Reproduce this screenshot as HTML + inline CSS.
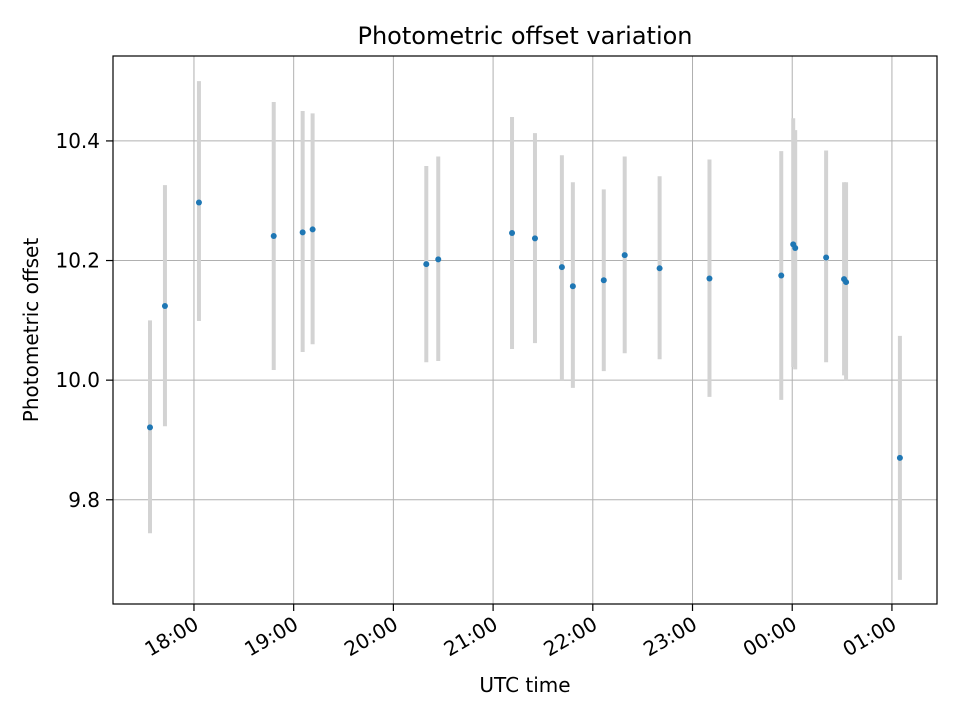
<!DOCTYPE html>
<html><head><meta charset="utf-8"><style>
body{margin:0;background:#fff;font-family:"Liberation Sans","DejaVu Sans",sans-serif}
svg text{font-family:"DejaVu Sans","Liberation Sans",sans-serif}
</style></head><body>
<svg id="chart" width="960" height="720" viewBox="0 0 960 720" xmlns="http://www.w3.org/2000/svg">
<rect width="960" height="720" fill="#fff"/>
<g id="grid"></g>
<g id="bars"></g>
<g id="pts"></g>
<rect x="113" y="56" width="824" height="548" fill="none" stroke="#000" stroke-width="1.2"/>
<g id="axes"></g>
<text x="525" y="44" text-anchor="middle" style="font-size:24px">Photometric offset variation</text>
<text x="525" y="692" text-anchor="middle" style="font-size:20px">UTC time</text>
<text transform="translate(38,330) rotate(-90)" text-anchor="middle" style="font-size:20px">Photometric offset</text>
</svg>
<script>
// hours since 00:00 of first day (values >24 are after midnight)
const times=[17.559,17.709,18.05,18.80,19.09,19.19,20.33,20.45,21.19,21.42,21.69,21.80,22.11,22.32,22.67,23.17,23.89,24.01,24.03,24.34,24.52,24.54,25.08];
const offsets=[9.921,10.124,10.297,10.241,10.247,10.252,10.194,10.202,10.246,10.237,10.189,10.157,10.167,10.209,10.187,10.170,10.175,10.227,10.221,10.205,10.169,10.164,9.870];
const upper=[10.10,10.326,10.50,10.465,10.45,10.446,10.358,10.374,10.44,10.413,10.376,10.331,10.319,10.374,10.341,10.369,10.383,10.438,10.418,10.384,10.331,10.331,10.074];
const lower=[9.744,9.923,10.099,10.017,10.047,10.06,10.03,10.032,10.052,10.062,10.0,9.987,10.015,10.045,10.035,9.972,9.967,10.022,10.018,10.03,10.008,10.0,9.666];
const xTicks=[18,19,20,21,22,23,24,25];
const xTickLabels=["18:00","19:00","20:00","21:00","22:00","23:00","00:00","01:00"];
const yTicks=[9.8,10.0,10.2,10.4];
const yTickLabels=["9.8","10.0","10.2","10.4"];
const L=113,R=937,T=56,B=604;
const xMin=17.188,xMax=25.452,yMin=9.6257,yMax=10.542;
const xs=h=>L+(h-xMin)/(xMax-xMin)*(R-L);
const ys=v=>B-(v-yMin)/(yMax-yMin)*(B-T);
const NS="http://www.w3.org/2000/svg";
function mk(tag,attrs,parent){const e=document.createElementNS(NS,tag);for(const k in attrs)e.setAttribute(k,attrs[k]);parent.appendChild(e);return e;}
const grid=document.getElementById('grid'),axes=document.getElementById('axes');
xTicks.forEach((t,i)=>{const x=xs(t);
 const g=mk('line',{x1:x,x2:x,y1:T,y2:B,stroke:'#b0b0b0','stroke-width':1},grid);
 
 
 const tk=mk('line',{x1:x,x2:x,y1:B,y2:B+7,stroke:'#000','stroke-width':1.2},axes);
 
 
 const tx=mk('text',{transform:`translate(${x+6},${B+24}) rotate(-30)`,'text-anchor':'end',style:'font-size:20px'},axes);
 tx.textContent=xTickLabels[i];
 
 
});
yTicks.forEach((t,i)=>{const y=ys(t);
 const g=mk('line',{x1:L,x2:R,y1:y,y2:y,stroke:'#b0b0b0','stroke-width':1},grid);
 
 
 const tk=mk('line',{x1:L-7,x2:L,y1:y,y2:y,stroke:'#000','stroke-width':1.2},axes);
 
 
 const tx=mk('text',{x:L-13,y:y+7,'text-anchor':'end',style:'font-size:20px'},axes);
 tx.textContent=yTickLabels[i];
 
 
});
const bars=document.getElementById('bars'),pts=document.getElementById('pts');
times.forEach((t,i)=>{const x=xs(t);
 const b=mk('line',{x1:x,x2:x,y1:ys(upper[i]),y2:ys(lower[i]),stroke:'#d3d3d3','stroke-width':4},bars);
 
 
 const c=mk('circle',{cx:x,cy:ys(offsets[i]),r:3,fill:'#1f77b4'},pts);
 
 
});
</script>
</body></html>
